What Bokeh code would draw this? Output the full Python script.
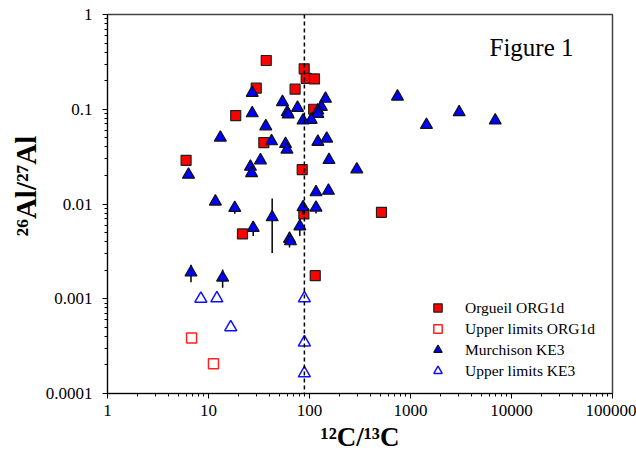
from bokeh.plotting import figure
from bokeh.models import (ColumnDataSource, Label, Span, Legend, LegendItem, Title,
                          FixedTicker, CustomJSTickFormatter)
from bokeh.embed import file_html
from bokeh.resources import INLINE

# ---------------- data ----------------
org_x = [37.3, 88.6, 92.8, 112, 72, 29.7, 18.6, 110, 35.3, 6.0, 84.7, 87.9, 516, 21.7, 114]
org_y = [0.327, 0.267, 0.212, 0.209, 0.163, 0.167, 0.0858, 0.100, 0.0445, 0.0289,
         0.0231, 0.00786, 0.00817, 0.00483, 0.00175]

org_lim_x = [6.8, 11.2]
org_lim_y = [0.000386, 0.000206]

mur_x = [27.1, 54.0, 144, 76.1, 131, 121, 121, 104, 86.3, 27.1,
         60.2, 61.5, 36.9, 13.1, 42.1, 57.9, 59.8, 121, 148, 32.7,
         26.0, 26.7, 156, 294, 6.34, 116, 154, 11.7, 18.2, 86.3,
         116, 42.7, 27.7, 80.2, 63.4, 64.8, 6.71, 13.8, 743, 3033,
         1439, 6900]
mur_y = [0.149, 0.119, 0.129, 0.1035, 0.106, 0.0969, 0.0894, 0.0773, 0.076, 0.0907,
         0.093, 0.088, 0.066, 0.0502, 0.0459, 0.043, 0.0375, 0.0453, 0.049, 0.0289,
         0.0247, 0.0212, 0.0291, 0.0232, 0.0204, 0.0133, 0.0138, 0.0106, 0.0091, 0.00927,
         0.00916, 0.00724, 0.0056, 0.0058, 0.00428, 0.00404, 0.00189, 0.00167, 0.136, 0.093,
         0.0684, 0.076]
mur_err = [0, 0, 0, 0, 0, 0, 0, 0, 0, 0,
           0, 0, 0, 0, 0, 0, 0, 0, 0, 0,
           0, 0, 0, 0, 0, 0, 0, 0, 0.0012, 0.0015,
           0.0012, 0.0042, 0.0010, 0.0012, 0.0008, 0, 0.0004, 0.00036, 0, 0,
           0, 0]

ke3_lim_x = [8.4, 12.1, 16.6, 89, 89, 89]
ke3_lim_y = [0.00100, 0.00101, 0.00050, 0.00101, 0.000346, 0.000163]

solar_ratio = 89

x_ticks = [1, 10, 100, 1000, 10000, 100000]
y_ticks = [0.0001, 0.001, 0.01, 0.1, 1]

series_labels = ["Orgueil ORG1d", "Upper limits ORG1d", "Murchison KE3", "Upper limits KE3"]
title_text = "Figure 1"
x_label = "\u00b9\u00b2C/\u00b9\u00b3C"
y_label = "\u00b2\u2076Al/\u00b2\u2077Al"

# ---------------- figure ----------------
FONT = "Liberation Serif"
W, H = 636, 459

p = figure(width=W, height=H, x_axis_type="log", y_axis_type="log",
           x_range=(1, 1e5), y_range=(1e-4, 1),
           output_backend="svg", toolbar_location=None,
           min_border_left=107, min_border_right=W - 612,
           min_border_top=14, min_border_bottom=H - 393)
p.background_fill_color = "white"
p.border_fill_color = "white"
p.xgrid.visible = False
p.ygrid.visible = False
p.outline_line_color = "#444444"
p.outline_line_width = 1.5


def minor(ticks):
    out = []
    for t in ticks[:-1]:
        for k in range(2, 10):
            out.append(t * k)
    return out


p.xaxis.ticker = FixedTicker(ticks=x_ticks, minor_ticks=minor(x_ticks))
p.yaxis.ticker = FixedTicker(ticks=y_ticks, minor_ticks=minor(y_ticks))
fmt = CustomJSTickFormatter(code="return String(tick);")
p.xaxis.formatter = fmt
p.yaxis.formatter = fmt

for ax in (p.xaxis[0], p.yaxis[0]):
    ax.axis_line_color = "black"
    ax.axis_line_width = 1
    ax.major_tick_line_color = "black"
    ax.minor_tick_line_color = "black"
    ax.major_tick_out = 5
    ax.major_tick_in = 0
    ax.minor_tick_out = 3
    ax.minor_tick_in = 0
    ax.major_label_text_font = FONT
    ax.major_label_text_font_size = "17px"
    ax.major_label_text_color = "black"

p.xaxis.major_label_standoff = 6
p.yaxis.major_label_standoff = 10

p.xaxis.axis_label = x_label
p.xaxis.axis_label_text_font = FONT
p.xaxis.axis_label_text_font_size = "27px"
p.xaxis.axis_label_text_font_style = "bold"
p.xaxis.axis_label_text_color = "black"
p.xaxis.axis_label_standoff = 3

# y label as a title in the left panel (allows an offset along the axis)
p.add_layout(Title(text=y_label, align="left", offset=157, vertical_align="bottom",
                   standoff=2, text_font=FONT, text_font_size="29px",
                   text_font_style="bold", text_color="black"), "left")

# solar line
p.add_layout(Span(location=solar_ratio, dimension="height", line_color="black",
                  line_width=1.5, line_dash="4 3"))

src_org = ColumnDataSource(dict(x=org_x, y=org_y))
src_orgl = ColumnDataSource(dict(x=org_lim_x, y=org_lim_y))
src_ke3l = ColumnDataSource(dict(x=ke3_lim_x, y=ke3_lim_y))
src_mur = ColumnDataSource(dict(x=mur_x, y=mur_y))

ex = [x for x, e in zip(mur_x, mur_err) if e > 0]
elo = [y - e for y, e in zip(mur_y, mur_err) if e > 0]
ehi = [y + e for y, e in zip(mur_y, mur_err) if e > 0]
src_err = ColumnDataSource(dict(x=ex, lo=elo, hi=ehi))

r_orgl = p.scatter("x", "y", source=src_orgl, marker="square", size=10,
                   fill_color="white", line_color="#FF2020", line_width=1.5)
r_ke3l = p.scatter("x", "y", source=src_ke3l, marker="triangle", size=12,
                   fill_color="white", line_color="#1010FF", line_width=1.5)
r_org = p.scatter("x", "y", source=src_org, marker="square", size=10,
                  fill_color="#FF0000", line_color="#202020", line_width=1.2)
p.segment(x0="x", y0="lo", x1="x", y1="hi", source=src_err, line_color="black", line_width=1.5)
r_mur = p.scatter("x", "y", source=src_mur, marker="triangle", size=12,
                  fill_color="#0000FF", line_color="#101010", line_width=1.2)

legend = Legend(items=[LegendItem(label=series_labels[0], renderers=[r_org]),
                       LegendItem(label=series_labels[1], renderers=[r_orgl]),
                       LegendItem(label=series_labels[2], renderers=[r_mur]),
                       LegendItem(label=series_labels[3], renderers=[r_ke3l])],
                location=(318, 12))
legend.label_text_font = FONT
legend.label_text_font_size = "15.5px"
legend.label_text_color = "black"
legend.border_line_alpha = 0
legend.background_fill_alpha = 0
legend.padding = 0
legend.margin = 0
legend.glyph_width = 25
legend.glyph_height = 21
legend.label_height = 18
legend.spacing = 0
legend.label_standoff = 15
p.add_layout(legend)

# title inside frame (screen units relative to the frame's lower-left corner)
p.add_layout(Label(x=382, y=346, x_units="screen", y_units="screen", text=title_text,
                   text_font=FONT, text_font_size="25px", text_color="black",
                   text_baseline="alphabetic", text_align="left"))

open("out.html", "w").write(file_html(p, INLINE))
